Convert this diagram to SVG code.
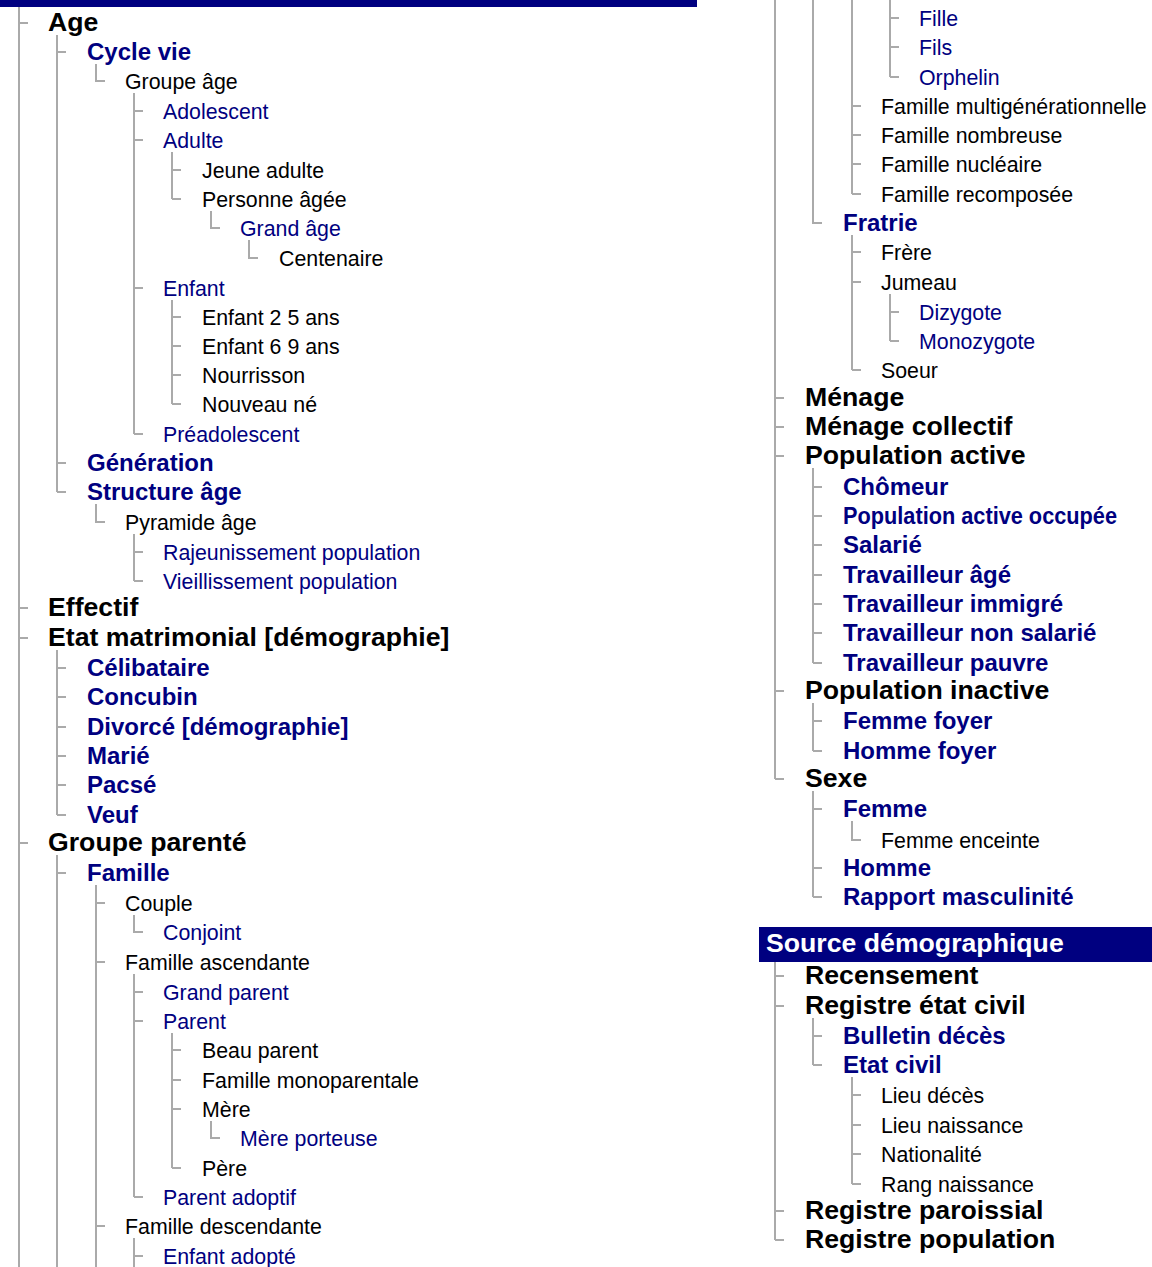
<svg xmlns="http://www.w3.org/2000/svg" width="1152" height="1267" viewBox="0 0 1152 1267">
<style>
text{font-family:"Liberation Sans",Arial,sans-serif}
.l1{font-size:26.67px;font-weight:bold;fill:#000}
.l2{font-size:24px;font-weight:bold;fill:#000080}
.n{font-size:21.33px;fill:#000}
.b{font-size:21.33px;fill:#000080}
.h{font-size:26.67px;font-weight:bold;fill:#fff}
.bar{fill:#000080}
#connectors path{stroke:#aaa;stroke-width:2;fill:none}
</style>
<rect width="1152" height="1267" fill="#fff"/>
<g id="header-population"><rect class="bar" x="0" y="-28" width="697" height="35"/></g>
<g id="header-source"><rect class="bar" x="759" y="927" width="393" height="35"/><text class="h" x="766" y="952">Source démographique</text></g>
<g id="connectors">
<path d="M19 7V1267M19 23h9M19 608h9M19 638h9M19 843h9"/>
<path d="M57 35V492M57 52h9M57 463h9M57 492h9"/>
<path d="M96 64V81h9"/>
<path d="M134 93V434M134 111h9M134 140h9M134 288h9M134 434h9"/>
<path d="M172 152V199M172 170h9M172 199h9"/>
<path d="M211 211V228h9"/>
<path d="M249 240V258h9"/>
<path d="M172 300V404M172 317h9M172 346h9M172 375h9M172 404h9"/>
<path d="M96 504V522h9"/>
<path d="M134 534V581M134 552h9M134 581h9"/>
<path d="M57 650V815M57 668h9M57 697h9M57 727h9M57 756h9M57 785h9M57 815h9"/>
<path d="M57 855V1267M57 873h9"/>
<path d="M96 885V1267M96 903h9M96 962h9M96 1226h9"/>
<path d="M134 915V932h9"/>
<path d="M134 974V1197M134 992h9M134 1021h9M134 1197h9"/>
<path d="M172 1033V1168M172 1050h9M172 1080h9M172 1109h9M172 1168h9"/>
<path d="M211 1121V1138h9"/>
<path d="M134 1238V1267M134 1256h9"/>
<path d="M775 0V779M775 398h9M775 427h9M775 456h9M775 691h9M775 779h9"/>
<path d="M813 0V223h9"/>
<path d="M852 0V194M852 106h9M852 135h9M852 164h9M852 194h9"/>
<path d="M890 0V77M890 18h9M890 47h9M890 77h9"/>
<path d="M852 235V370M852 252h9M852 282h9M852 370h9"/>
<path d="M890 294V341M890 312h9M890 341h9"/>
<path d="M813 468V663M813 487h9M813 516h9M813 545h9M813 575h9M813 604h9M813 633h9M813 663h9"/>
<path d="M813 703V751M813 721h9M813 751h9"/>
<path d="M813 791V897M813 809h9M813 868h9M813 897h9"/>
<path d="M852 821V840h9"/>
<path d="M775 962V1240M775 976h9M775 1006h9M775 1211h9M775 1240h9"/>
<path d="M813 1018V1065M813 1036h9M813 1065h9"/>
<path d="M852 1077V1184M852 1095h9M852 1125h9M852 1154h9M852 1184h9"/>
</g>
<g id="age"><text class="l1" x="48" y="31">Age</text></g>
<g id="cycle-vie"><text class="l2" x="87" y="60">Cycle vie</text></g>
<g id="groupe-age"><text class="n" x="125" y="89">Groupe âge</text></g>
<g id="adolescent"><text class="b" x="163" y="119">Adolescent</text></g>
<g id="adulte"><text class="b" x="163" y="148">Adulte</text></g>
<g id="jeune-adulte"><text class="n" x="202" y="178">Jeune adulte</text></g>
<g id="personne-agee"><text class="n" x="202" y="207">Personne âgée</text></g>
<g id="grand-age"><text class="b" x="240" y="236">Grand âge</text></g>
<g id="centenaire"><text class="n" x="279" y="266">Centenaire</text></g>
<g id="enfant"><text class="b" x="163" y="296">Enfant</text></g>
<g id="enfant-2-5"><text class="n" x="202" y="325">Enfant 2 5 ans</text></g>
<g id="enfant-6-9"><text class="n" x="202" y="354">Enfant 6 9 ans</text></g>
<g id="nourrisson"><text class="n" x="202" y="383">Nourrisson</text></g>
<g id="nouveau-ne"><text class="n" x="202" y="412">Nouveau né</text></g>
<g id="preadolescent"><text class="b" x="163" y="442">Préadolescent</text></g>
<g id="generation"><text class="l2" x="87" y="471">Génération</text></g>
<g id="structure-age"><text class="l2" x="87" y="500">Structure âge</text></g>
<g id="pyramide-age"><text class="n" x="125" y="530">Pyramide âge</text></g>
<g id="rajeunissement"><text class="b" x="163" y="560">Rajeunissement population</text></g>
<g id="vieillissement"><text class="b" x="163" y="589">Vieillissement population</text></g>
<g id="effectif"><text class="l1" x="48" y="616">Effectif</text></g>
<g id="etat-matrimonial"><text class="l1" x="48" y="646">Etat matrimonial [démographie]</text></g>
<g id="celibataire"><text class="l2" x="87" y="676">Célibataire</text></g>
<g id="concubin"><text class="l2" x="87" y="705">Concubin</text></g>
<g id="divorce"><text class="l2" x="87" y="735">Divorcé [démographie]</text></g>
<g id="marie"><text class="l2" x="87" y="764">Marié</text></g>
<g id="pacse"><text class="l2" x="87" y="793">Pacsé</text></g>
<g id="veuf"><text class="l2" x="87" y="823">Veuf</text></g>
<g id="groupe-parente"><text class="l1" x="48" y="851">Groupe parenté</text></g>
<g id="famille"><text class="l2" x="87" y="881">Famille</text></g>
<g id="couple"><text class="n" x="125" y="911">Couple</text></g>
<g id="conjoint"><text class="b" x="163" y="940">Conjoint</text></g>
<g id="famille-ascendante"><text class="n" x="125" y="970">Famille ascendante</text></g>
<g id="grand-parent"><text class="b" x="163" y="1000">Grand parent</text></g>
<g id="parent"><text class="b" x="163" y="1029">Parent</text></g>
<g id="beau-parent"><text class="n" x="202" y="1058">Beau parent</text></g>
<g id="famille-monoparentale"><text class="n" x="202" y="1088">Famille monoparentale</text></g>
<g id="mere"><text class="n" x="202" y="1117">Mère</text></g>
<g id="mere-porteuse"><text class="b" x="240" y="1146">Mère porteuse</text></g>
<g id="pere"><text class="n" x="202" y="1176">Père</text></g>
<g id="parent-adoptif"><text class="b" x="163" y="1205">Parent adoptif</text></g>
<g id="famille-descendante"><text class="n" x="125" y="1234">Famille descendante</text></g>
<g id="enfant-adopte"><text class="b" x="163" y="1264">Enfant adopté</text></g>
<g id="fille"><text class="b" x="919" y="26">Fille</text></g>
<g id="fils"><text class="b" x="919" y="55">Fils</text></g>
<g id="orphelin"><text class="b" x="919" y="85">Orphelin</text></g>
<g id="famille-multi"><text class="n" x="881" y="114">Famille multigénérationnelle</text></g>
<g id="famille-nombreuse"><text class="n" x="881" y="143">Famille nombreuse</text></g>
<g id="famille-nucleaire"><text class="n" x="881" y="172">Famille nucléaire</text></g>
<g id="famille-recomposee"><text class="n" x="881" y="202">Famille recomposée</text></g>
<g id="fratrie"><text class="l2" x="843" y="231">Fratrie</text></g>
<g id="frere"><text class="n" x="881" y="260">Frère</text></g>
<g id="jumeau"><text class="n" x="881" y="290">Jumeau</text></g>
<g id="dizygote"><text class="b" x="919" y="320">Dizygote</text></g>
<g id="monozygote"><text class="b" x="919" y="349">Monozygote</text></g>
<g id="soeur"><text class="n" x="881" y="378">Soeur</text></g>
<g id="menage"><text class="l1" x="805" y="406">Ménage</text></g>
<g id="menage-collectif"><text class="l1" x="805" y="435">Ménage collectif</text></g>
<g id="population-active"><text class="l1" x="805" y="464">Population active</text></g>
<g id="chomeur"><text class="l2" x="843" y="495">Chômeur</text></g>
<g id="pop-active-occupee"><text class="l2" x="843" y="524" textLength="274" lengthAdjust="spacingAndGlyphs">Population active occupée</text></g>
<g id="salarie"><text class="l2" x="843" y="553">Salarié</text></g>
<g id="travailleur-age"><text class="l2" x="843" y="583">Travailleur âgé</text></g>
<g id="travailleur-immigre"><text class="l2" x="843" y="612">Travailleur immigré</text></g>
<g id="travailleur-non-salarie"><text class="l2" x="843" y="641">Travailleur non salarié</text></g>
<g id="travailleur-pauvre"><text class="l2" x="843" y="671">Travailleur pauvre</text></g>
<g id="population-inactive"><text class="l1" x="805" y="699">Population inactive</text></g>
<g id="femme-foyer"><text class="l2" x="843" y="729">Femme foyer</text></g>
<g id="homme-foyer"><text class="l2" x="843" y="759">Homme foyer</text></g>
<g id="sexe"><text class="l1" x="805" y="787">Sexe</text></g>
<g id="femme"><text class="l2" x="843" y="817">Femme</text></g>
<g id="femme-enceinte"><text class="n" x="881" y="848">Femme enceinte</text></g>
<g id="homme"><text class="l2" x="843" y="876">Homme</text></g>
<g id="rapport-masculinite"><text class="l2" x="843" y="905">Rapport masculinité</text></g>
<g id="recensement"><text class="l1" x="805" y="984">Recensement</text></g>
<g id="registre-etat-civil"><text class="l1" x="805" y="1014">Registre état civil</text></g>
<g id="bulletin-deces"><text class="l2" x="843" y="1044">Bulletin décès</text></g>
<g id="etat-civil"><text class="l2" x="843" y="1073">Etat civil</text></g>
<g id="lieu-deces"><text class="n" x="881" y="1103">Lieu décès</text></g>
<g id="lieu-naissance"><text class="n" x="881" y="1133">Lieu naissance</text></g>
<g id="nationalite"><text class="n" x="881" y="1162">Nationalité</text></g>
<g id="rang-naissance"><text class="n" x="881" y="1192">Rang naissance</text></g>
<g id="registre-paroissial"><text class="l1" x="805" y="1219">Registre paroissial</text></g>
<g id="registre-population"><text class="l1" x="805" y="1248">Registre population</text></g>
</svg>
